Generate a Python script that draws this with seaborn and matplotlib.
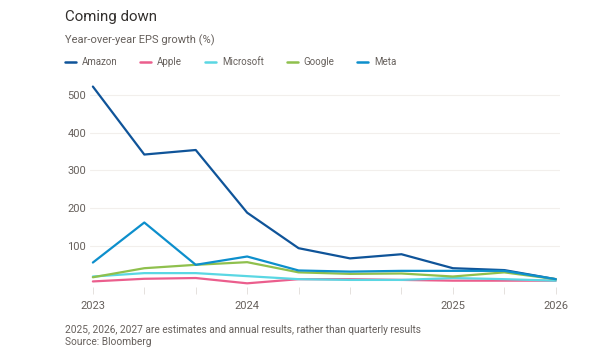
import pandas as pd
import matplotlib.pyplot as plt
import seaborn as sns

# quarterly points, 2023 -> 2026 (last ones are annual estimates)
periods = list(range(10))
tick_pos = [0, 3, 7, 9]
tick_labels = ["2023", "2024", "2025", "2026"]

amazon = [522, 342, 354, 188, 94, 67, 78, 41, 36, 12]
apple = [6, 13, 15, 1, 12, 12, 10, 8, 8, 8]
microsoft = [19, 28, 28, 20, 12, 10, 10, 15, 12, 8]
google = [17, 41, 50, 57, 30, 26, 27, 19, 30, 12]
meta = [56, 162, 50, 72, 35, 32, 34, 34, 34, 12]

companies = ["Amazon", "Apple", "Microsoft", "Google", "Meta"]
colors = ["#0f5499", "#eb5e8d", "#5ad7e3", "#8fc04d", "#0d8fcc"]

df = pd.DataFrame({
    "period": periods * 5,
    "growth": amazon + apple + microsoft + google + meta,
    "company": sum([[c] * 10 for c in companies], []),
})

sns.set_style("white")
plt.rcParams["font.family"] = ["Roboto", "DejaVu Sans"]

fig = plt.figure(figsize=(6.02, 3.51), dpi=100)
ax = fig.add_axes([0.150, 0.181, 0.780, 0.581])

sns.lineplot(data=df, x="period", y="growth", hue="company", palette=colors,
             hue_order=companies, linewidth=1.6, ax=ax, legend=False)
for ln in ax.lines:
    ln.set_clip_on(False)

ax.set_xlim(-0.05, 9.08)
ax.set_ylim(-10, 530)
ax.set_yticks([100, 200, 300, 400, 500])
ax.set_xticks(periods)
ax.set_xticklabels(["" if p not in tick_pos else tick_labels[tick_pos.index(p)] for p in periods])
ax.grid(axis="y", color="#f2efec", linewidth=0.8)
ax.set_axisbelow(True)
for s in ax.spines.values():
    s.set_visible(False)
ax.tick_params(axis="x", length=5, width=0.6, color="#e0dcd8", labelsize=8,
               labelcolor="#66605c", pad=5, bottom=True)
ax.tick_params(axis="y", length=0, labelsize=8, labelcolor="#66605c", pad=3)
ax.set_xlabel("")
ax.set_ylabel("")

fig.text(0.108, 0.940, "Coming down", fontsize=10.8, color="#33302e", va="baseline")
fig.text(0.108, 0.877, "Year-over-year EPS growth (%)", fontsize=8, color="#66605c", va="baseline")

handles = [plt.Line2D([], [], color=c, linewidth=1.8) for c in colors]
fig.legend(handles, companies, loc="center left", bbox_to_anchor=(0.108, 0.823),
           ncol=5, frameon=False, borderpad=0, borderaxespad=0,
           handlelength=1.13, handletextpad=0.6, columnspacing=2.35,
           fontsize=7, labelcolor="#66605c")

fig.text(0.108, 0.052, "2025, 2026, 2027 are estimates and annual results, rather than quarterly results",
         fontsize=7.3, color="#66605c", va="baseline")
fig.text(0.108, 0.017, "Source: Bloomberg", fontsize=7.3, color="#66605c", va="baseline")

plt.savefig("out.png", dpi=100, facecolor="white")
